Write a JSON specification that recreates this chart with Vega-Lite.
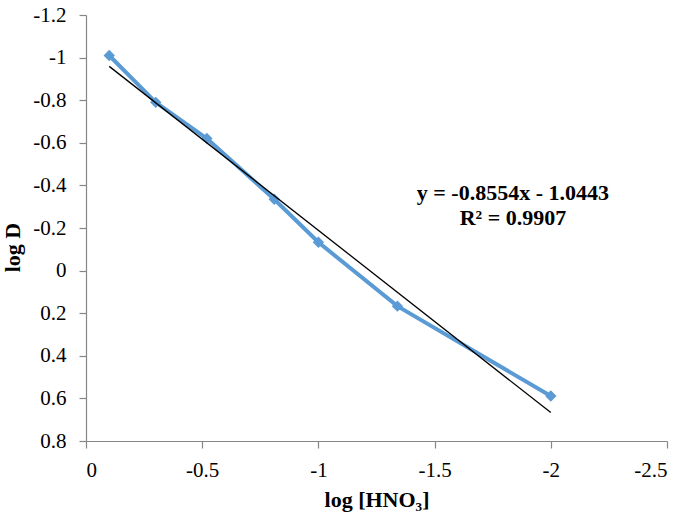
{
  "$schema": "https://vega.github.io/schema/vega-lite/v6.json",
  "width": 581,
  "height": 426,
  "autosize": "none",
  "padding": {"left": 86, "top": 15, "right": 18, "bottom": 81},
  "background": "white",
  "config": {
    "view": {"stroke": null},
    "font": "Liberation Serif",
    "axis": {
      "grid": false,
      "domainColor": "#868686",
      "domainWidth": 1.2,
      "tickColor": "#868686",
      "tickWidth": 1.2,
      "tickSize": 7,
      "labelColor": "black",
      "labelFont": "Liberation Serif",
      "labelFontSize": 21,
      "titleFont": "Liberation Serif",
      "titleFontSize": 22,
      "titleFontWeight": "bold",
      "titleColor": "black"
    }
  },
  "datasets": {
    "points": [
      {"x": -0.1, "y": -1.01},
      {"x": -0.3, "y": -0.79},
      {"x": -0.52, "y": -0.62},
      {"x": -0.81, "y": -0.335},
      {"x": -1.0, "y": -0.133},
      {"x": -1.34, "y": 0.167},
      {"x": -2.0, "y": 0.589}
    ],
    "trend": [
      {"x": -0.1, "y": -0.9588},
      {"x": -2.0, "y": 0.6665}
    ],
    "labels": [
      {"x": -1.837, "y": -0.364, "text": "y = -0.8554x - 1.0443"},
      {"x": -1.837, "y": -0.247, "text": "R² = 0.9907"}
    ]
  },
  "layer": [
    {
      "data": {"name": "points"},
      "mark": {"type": "line", "color": "#5B9BD5", "strokeWidth": 4},
      "encoding": {
        "x": {
          "field": "x", "type": "quantitative",
          "scale": {"domain": [-2.5, 0], "reverse": true, "nice": false},
          "axis": {
            "values": [0, -0.5, -1, -1.5, -2, -2.5],
            "title": "log [HNO₃]",
            "labelPadding": 11,
            "titleY": 48,
            "titleBaseline": "top",
            "labelExpr": "replace(format(datum.value, '.1~f'), '\u2212', '-')"
          }
        },
        "y": {
          "field": "y", "type": "quantitative",
          "scale": {"domain": [-1.2, 0.8], "reverse": true, "nice": false, "zero": false},
          "axis": {
            "values": [-1.2, -1, -0.8, -0.6, -0.4, -0.2, 0, 0.2, 0.4, 0.6, 0.8],
            "title": "log D",
            "labelPadding": 13,
            "titleX": -62,
            "titleY": 232,
            "titleBaseline": "bottom",
            "labelExpr": "replace(format(datum.value, '.1~f'), '\u2212', '-')"
          }
        }
      }
    },
    {
      "data": {"name": "points"},
      "mark": {"type": "point", "shape": "diamond", "filled": true, "color": "#5B9BD5", "size": 130, "opacity": 1},
      "encoding": {
        "x": {"field": "x", "type": "quantitative"},
        "y": {"field": "y", "type": "quantitative"}
      }
    },
    {
      "data": {"name": "trend"},
      "mark": {"type": "line", "color": "black", "strokeWidth": 1.3},
      "encoding": {
        "x": {"field": "x", "type": "quantitative"},
        "y": {"field": "y", "type": "quantitative"}
      }
    },
    {
      "data": {"name": "labels"},
      "mark": {"type": "text", "font": "Liberation Serif", "fontSize": 22, "fontWeight": "bold", "align": "center", "baseline": "middle", "color": "black"},
      "encoding": {
        "x": {"field": "x", "type": "quantitative"},
        "y": {"field": "y", "type": "quantitative"},
        "text": {"field": "text"}
      }
    }
  ]
}
